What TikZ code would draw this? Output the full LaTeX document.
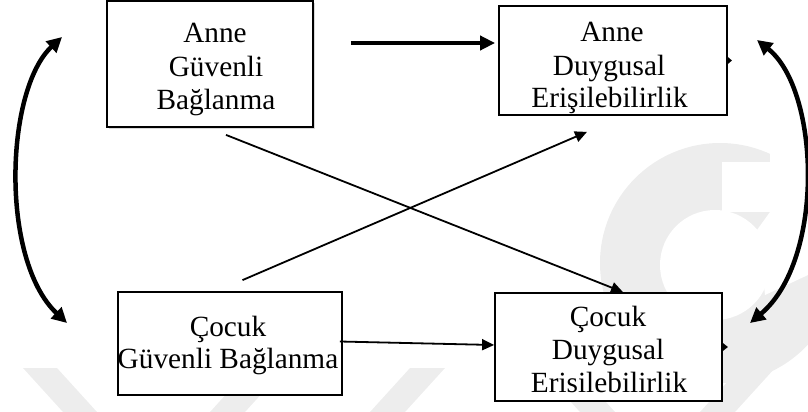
\documentclass[tikz,border=0pt]{standalone}
\usepackage{fontspec}
\setmainfont{Liberation Serif}
\usetikzlibrary{arrows.meta,shadows,calc}
\begin{document}
\begin{tikzpicture}[x=1pt,y=-1pt,
  box/.style={draw=black,line width=1.8pt,fill=white,inner sep=0pt},
  txt/.style={anchor=base,inner sep=0pt,font=\fontsize{29.3}{32}\selectfont},
  thin/.style={line width=1.8pt,-{Triangle[length=12pt,width=11pt]}},
  bold/.style={line width=4.2pt,-{Triangle[length=15pt,width=14pt]}},
  curve/.style={line width=4.5pt,{Triangle[length=15pt,width=15pt]}-{Triangle[length=15pt,width=15pt]}},
  wm/.style={fill=black!7,draw=none}]
\useasboundingbox (0,0) rectangle (808,412);
% faint watermark
\begin{scope}
\fill[wm] (720,263) circle (120);
\fill[white] (715,265) circle (55);
\fill[white] (722,162) -- (770,162) -- (770,212) -- (722,212) -- cycle;
\fill[white] (770,140) -- (808,140) -- (808,275) -- (765,295) -- (760,250)
  -- (757,230) -- (770,212) -- cycle;
\fill[wm] (23,368) -- (57,368) -- (97,412) -- (63,412) -- cycle;
\fill[wm] (250,368) -- (285,368) -- (245,412) -- (210,412) -- cycle;
\fill[wm] (410,368) -- (445,368) -- (405,412) -- (370,412) -- cycle;
\fill[wm] (540,368) -- (575,368) -- (615,412) -- (580,412) -- cycle;
\fill[wm] (740,368) -- (775,368) -- (735,412) -- (700,412) -- cycle;
\end{scope}
% boxes
\node[box,minimum width=206pt,minimum height=126pt,
  drop shadow={shadow xshift=2pt,shadow yshift=-2pt,opacity=.3}] (A) at (210,64) {};
\node[box,minimum width=228pt,minimum height=109pt] (B) at (613,60.5) {};
\node[box,minimum width=224pt,minimum height=103pt] (C) at (230,343.5) {};
\node[box,minimum width=227pt,minimum height=108pt] (D) at (608.5,347) {};
% texts
\node[txt] (A1) at (215,43) {Anne};
\node[txt] (A2) at (216,76) {Güvenli};
\node[txt] (A3) at (216,109) {Bağlanma};
\node[txt] (B1) at (612,42) {Anne};
\node[txt] (B2) at (609,75) {Duygusal};
\node[txt] (B3) at (609.5,107) {Erişilebilirlik};
\node[txt] (C1) at (228,336) {Çocuk};
\node[txt] (C2) at (228,368) {Güvenli Bağlanma};
\node[txt] (D1) at (608,326) {Çocuk};
\node[txt] (D2) at (608,359) {Duygusal};
\node[txt] (D3) at (609,392) {Erisilebilirlik};
% connectors
\draw[bold] ([shift={(37,-21)}]A.east) -- ([shift={(-3,-17.5)}]B.west);
\draw[thin] ([shift={(16,7)}]A.south) -- ([shift={(14.5,0)}]D.north);
\draw[thin] ([shift={(12.5,-11)}]C.north) -- ([shift={(-26,16)}]B.south);
\draw[thin] ([shift={(-3,-2)}]C.east) -- ([shift={(0,-2)}]D.west);
% small ticks on right edges
\fill (B.east) ++(0,-3.5) -- ++(4,3.5) -- ++(-4,3.5) -- cycle;
\fill (D.east) ++(0,-4) -- ++(5,4) -- ++(-5,4) -- cycle;
% curved double arrows
\coordinate (l1) at (62,37);
\coordinate (l2) at (67,323);
\coordinate (r1) at (757,40);
\coordinate (r2) at (750,323);
\draw[curve] (l1) .. controls (5,90) and (0,260) .. (l2);
\draw[curve] (r1) .. controls (820,90) and (825,260) .. (r2);
\end{tikzpicture}
\end{document}
